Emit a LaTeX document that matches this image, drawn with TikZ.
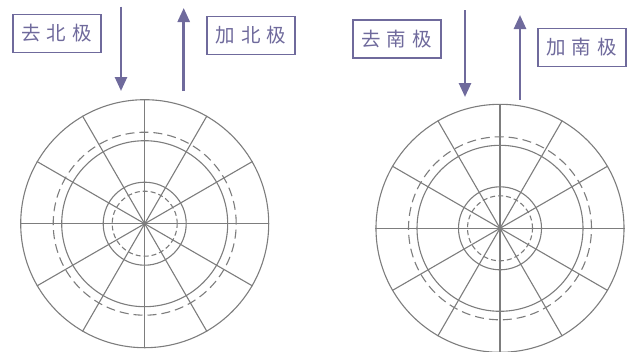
\documentclass[tikz,border=0pt]{standalone}
\usepackage{fontspec}
\newfontfamily\cjk[LetterSpace=30]{Noto Sans CJK SC}
\usetikzlibrary{arrows.meta}
\usepackage{xcolor}
\definecolor{polelila}{HTML}{6F6A9C}
\definecolor{ringgray}{HTML}{7D7D7D}

\begin{document}
\begin{tikzpicture}[x=1pt,y=-1pt,font=\cjk\fontsize{19.5}{21}\selectfont,
  >={Triangle[length=14pt,width=12pt]}]
\tikzset{polebox/.style={draw=polelila,line width=1.6pt,text=polelila,inner sep=0pt,
    minimum width=88pt,minimum height=38pt},
  flow/.style={->,polelila,line width=2.6pt},
  ring/.style={circle,draw=ringgray,line width=1.1pt,inner sep=0pt,minimum size=#1},
  dring/.style={ring=#1,dash pattern=on 9pt off 5pt},
  sring/.style={ring=#1,dash pattern=on 5pt off 3pt}}
\useasboundingbox (0,0) rectangle (636,351);
% labels
\node[polebox] (quN) at (56.7,33.3) {去北极};
\node[polebox] (jiaN) at (251,35.5) {加北极};
\node[polebox] (quS) at (396.7,39.2) {去南极};
\node[polebox] (jiaS) at (581.7,47.5) {加南极};
% arrows
\coordinate (qNa) at (121,6.7);   \coordinate (qNb) at (121,91);
\coordinate (jNa) at (183.7,91);  \coordinate (jNb) at (183.7,8);
\coordinate (qSa) at (465,10);    \coordinate (qSb) at (465,97);
\coordinate (jSa) at (520,99.5);  \coordinate (jSb) at (520,15);
\draw[flow] (qNa) -- (qNb);
\draw[flow] (jNa) -- (jNb);
\draw[flow] (qSa) -- (qSb);
\draw[flow] (jSa) -- (jSb);
% discs
\foreach \p/\x/\y in {N/144.7/223.7, S/500/228.3}{
  \node[ring=248pt] (disk\p) at (\x,\y) {};
  \node[ring=166pt] (mid\p) at (\x,\y) {};
  \node[dring=183pt] (dash\p) at (\x,\y) {};
  \node[ring=83pt] (core\p) at (\x,\y) {};
  \node[sring=65pt] (dot\p) at (\x,\y) {};
  \foreach \a [evaluate=\a as \b using int(\a+180)] in {0,30,...,150}
    \draw[ringgray,line width=1.1pt] (disk\p.\a) -- (disk\p.\b);
  \fill[ringgray] (disk\p.center) circle[radius=1.8];}
\end{tikzpicture}
\end{document}
